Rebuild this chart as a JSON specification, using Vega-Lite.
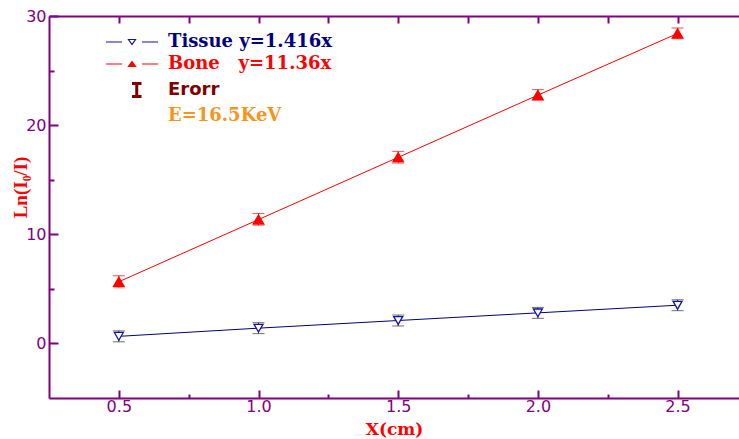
{
  "$schema": "https://vega.github.io/schema/vega-lite/v6.json",
  "width": 690,
  "height": 382,
  "autosize": {"type": "none"},
  "padding": {"left": 49, "top": 16, "right": 0, "bottom": 41},
  "background": "white",
  "config": {
    "view": {"stroke": null},
    "axis": {
      "grid": false,
      "domainColor": "#800080",
      "domainWidth": 2,
      "tickColor": "#800080",
      "tickWidth": 2,
      "labelColor": "#800080",
      "labelFont": "DejaVu Sans",
      "labelFontSize": 16
    }
  },
  "data": {
    "values": [
      {"series": "Tissue", "x": 0.5, "y": 0.65, "lo": 0.15, "hi": 1.15},
      {"series": "Tissue", "x": 1.0, "y": 1.4, "lo": 0.9, "hi": 1.9},
      {"series": "Tissue", "x": 1.5, "y": 2.1, "lo": 1.6, "hi": 2.6},
      {"series": "Tissue", "x": 2.0, "y": 2.8, "lo": 2.3, "hi": 3.3},
      {"series": "Tissue", "x": 2.5, "y": 3.5, "lo": 3.0, "hi": 4.0},
      {"series": "Bone", "x": 0.5, "y": 5.65, "lo": 5.1, "hi": 6.2},
      {"series": "Bone", "x": 1.0, "y": 11.35, "lo": 10.8, "hi": 11.9},
      {"series": "Bone", "x": 1.5, "y": 17.05, "lo": 16.5, "hi": 17.6},
      {"series": "Bone", "x": 2.0, "y": 22.75, "lo": 22.25, "hi": 23.25},
      {"series": "Bone", "x": 2.5, "y": 28.4, "lo": 27.9, "hi": 28.9}
    ]
  },
  "resolve": {
    "scale": {"x": "shared", "y": "shared", "color": "shared"},
    "axis": {"x": "independent", "y": "independent"}
  },
  "layer": [
    {
      "mark": {"type": "line", "strokeWidth": 1},
      "encoding": {
        "x": {
          "field": "x", "type": "quantitative",
          "scale": {"domain": [0.25, 2.72], "nice": false, "zero": false},
          "axis": {
            "orient": "bottom", "values": [0.5, 1, 1.5, 2, 2.5], "format": ".1f",
            "tickSize": -8, "labelPadding": 8,
            "title": "X(cm)", "titleFont": "DejaVu Serif", "titleFontWeight": "bold",
            "titleFontSize": 17, "titleColor": "#ff0000",
            "titleBaseline": "alphabetic", "titleY": 36
          }
        },
        "y": {
          "field": "y", "type": "quantitative",
          "scale": {"domain": [-5, 30], "nice": false, "zero": false},
          "axis": {
            "orient": "left", "values": [0, 10, 20, 30],
            "tickSize": -9, "labelPadding": 12,
            "title": "Ln(I₀/I)", "titleFont": "Liberation Serif", "titleFontWeight": "bold",
            "titleFontSize": 19, "titleColor": "#ff0000",
            "titleAngle": 270, "titleBaseline": "middle", "titleAlign": "center",
            "titleX": -29, "titleY": 171
          }
        },
        "detail": {"field": "series", "type": "nominal"},
        "color": {"condition": {"test": "datum.series === 'Tissue'", "value": "#000080"}, "value": "#ff0000"}
      }
    },
    {
      "mark": {"type": "rule", "strokeWidth": 1},
      "encoding": {
        "x": {
          "field": "x", "type": "quantitative",
          "axis": {"orient": "bottom", "values": [0.75, 1.25, 1.75, 2.25], "tickSize": -4, "labels": false, "domain": false, "title": null}
        },
        "y": {
          "field": "lo", "type": "quantitative",
          "axis": {"orient": "left", "values": [5, 15, 25], "tickSize": -5, "labels": false, "domain": false, "title": null}
        },
        "y2": {"field": "hi"},
        "color": {"condition": {"test": "datum.series === 'Tissue'", "value": "#333333"}, "value": "#ff0000"}
      }
    },
    {
      "mark": {"type": "tick", "orient": "horizontal", "size": 12, "thickness": 1},
      "encoding": {
        "x": {
          "field": "x", "type": "quantitative",
          "axis": {"orient": "top", "values": [0.5, 0.75, 1, 1.25, 1.5, 1.75, 2, 2.25, 2.5], "tickSize": -7, "labels": false, "title": null}
        },
        "y": {"field": "lo", "type": "quantitative", "axis": null},
        "color": {"condition": {"test": "datum.series === 'Tissue'", "value": "#333333"}, "value": "#ff6060"}
      }
    },
    {
      "mark": {"type": "tick", "orient": "horizontal", "size": 12, "thickness": 1},
      "encoding": {
        "x": {"field": "x", "type": "quantitative", "axis": null},
        "y": {"field": "hi", "type": "quantitative", "axis": null},
        "color": {"condition": {"test": "datum.series === 'Tissue'", "value": "#333333"}, "value": "#ff0000"}
      }
    },
    {
      "mark": {"type": "point", "filled": false, "strokeWidth": 1.3, "opacity": 1},
      "encoding": {
        "x": {"field": "x", "type": "quantitative", "axis": null},
        "y": {"field": "y", "type": "quantitative", "axis": null},
        "shape": {"condition": {"test": "datum.series === 'Bone'", "value": "triangle-up"}, "value": "triangle-down"},
        "size": {"condition": {"test": "datum.series === 'Bone'", "value": 110}, "value": 80},
        "fill": {"condition": {"test": "datum.series === 'Bone'", "value": "#ff0000"}, "value": "#ffffff"},
        "color": {
          "field": "series", "type": "nominal",
          "scale": {"domain": ["Tissue", "Bone", "Erorr", "E"], "range": ["#1010b0", "#ff0000", "#800000", "#f7941d"]},
          "legend": {
            "orient": "none", "legendX": 74, "legendY": 17, "title": null, "padding": 0,
            "symbolSize": 100, "labelOffset": 27, "rowPadding": 4, "labelLimit": 400,
            "labelFont": {"expr": "datum.value === 'Erorr' ? 'DejaVu Sans' : 'DejaVu Serif'"},
            "labelFontSize": 18, "labelFontWeight": "bold",
            "labelColor": {"expr": "datum.value === 'Tissue' ? '#000080' : datum.value === 'Bone' ? '#ff0000' : datum.value === 'Erorr' ? '#800000' : '#f7941d'"},
            "labelExpr": "datum.value === 'Tissue' ? 'Tissue y=1.416x' : datum.value === 'Bone' ? 'Bone\u00a0\u00a0\u00a0y=11.36x' : datum.value === 'Erorr' ? 'Erorr' : 'E=16.5KeV'",
            "symbolType": {"expr": "datum.value === 'Tissue' ? 'M-5.2,0H-2M2,0H5.2M-0.7,-0.5H0.7L0,0.5Z' : datum.value === 'Bone' ? 'M-5.2,0H-2M2,0H5.2M-0.7,0.5H0.7L0,-0.5ZM-0.4,0.32H0.4L0,-0.2ZM-0.15,0.2H0.15L0,0.05Z' : 'M0,-1.3H1.9M0.95,-1.3V1.3M0,1.3H1.9'"},
            "symbolStrokeColor": {"expr": "datum.value === 'Tissue' ? '#4848a8' : datum.value === 'Bone' ? '#ff5050' : '#800000'"},
            "symbolStrokeWidth": {"expr": "datum.value === 'Erorr' ? 3 : 1.2"},
            "symbolOpacity": {"expr": "datum.value === 'E' ? 0 : 1"}
          }
        }
      }
    }
  ]
}
